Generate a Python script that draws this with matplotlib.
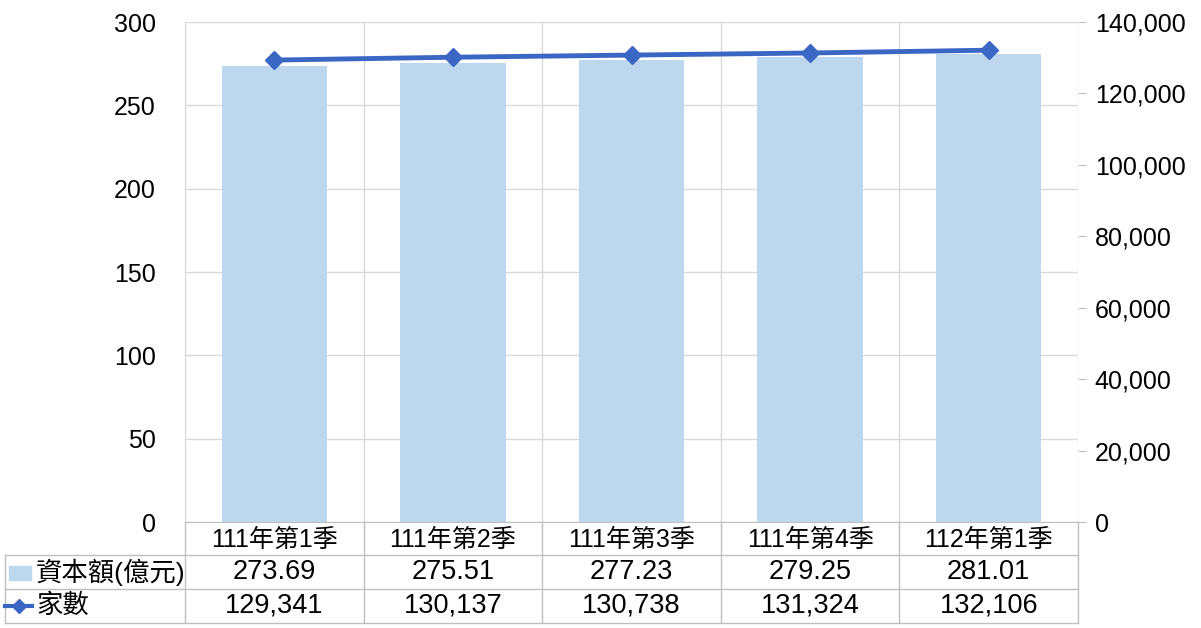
import numpy as np
import matplotlib.pyplot as plt
from matplotlib.transforms import blended_transform_factory
from matplotlib.lines import Line2D
from matplotlib.patches import Rectangle

plt.rcParams['font.family'] = ['Liberation Sans', 'Noto Sans CJK TC', 'DejaVu Sans']

quarters = ["111年第1季", "111年第2季", "111年第3季", "111年第4季", "112年第1季"]
capital = [273.69, 275.51, 277.23, 279.25, 281.01]       # 資本額(億元)
counts = [129341, 130137, 130738, 131324, 132106]         # 家數
capital_labels = ["273.69", "275.51", "277.23", "279.25", "281.01"]
count_labels = ["129,341", "130,137", "130,738", "131,324", "132,106"]

bar_color = "#bdd7ee"
line_color = "#3a66c4"
grid_color = "#d9d9d9"
fs = 18
fs_tbl = 19.5

fig = plt.figure(figsize=(12.01, 6.28), dpi=100)
ax = fig.add_axes([185 / 1201, 1 - 522 / 628, (1078 - 185) / 1201, 500 / 628])
x = np.arange(len(quarters))

ax.bar(x, capital, width=0.59, color=bar_color, zorder=2)
ax.set_xlim(-0.5, len(quarters) - 0.5)
ax.set_ylim(0, 300)
ax.set_yticks(range(0, 301, 50))
ax.yaxis.grid(True, color=grid_color, lw=1, zorder=0)
for b in np.arange(-0.5, len(quarters), 1.0):
    ax.axvline(b, color=grid_color, lw=1, zorder=0)
for s in ax.spines.values():
    s.set_visible(False)
ax.spines['bottom'].set_visible(True)
ax.spines['bottom'].set_color("#bfbfbf")
ax.tick_params(axis='y', length=0, labelsize=fs, pad=21)
ax.set_xticks(x)
ax.set_xticklabels(quarters, fontsize=fs)
ax.tick_params(axis='x', length=0, pad=4)

ax2 = ax.twinx()
ax2.plot(x, counts, color=line_color, lw=3.5, marker='D', markersize=9, zorder=5)
ax2.set_ylim(0, 140000)
ax2.set_yticks(range(0, 140001, 20000))
ax2.set_yticklabels([f"{v:,}" for v in range(0, 140001, 20000)], fontsize=fs)
for s in ax2.spines.values():
    s.set_visible(False)
ax2.tick_params(axis='y', length=6, color="#bfbfbf", pad=6)

# data table under the chart
trans = blended_transform_factory(ax.transData, ax.transAxes)
px = 1 / 500.0  # axes fraction per pixel in y
rows_y = [-(555 - 522) * px, -(589 - 522) * px, -(623 - 522) * px]
tbl_color = "#bfbfbf"
xmin_axes = (5 - 185) / (1078 - 185)
for yy in rows_y:
    ax.add_line(Line2D([xmin_axes, 1], [yy, yy], transform=ax.transAxes,
                       color=tbl_color, lw=1, clip_on=False))
for b in np.arange(-0.5, len(quarters), 1.0):
    ax.add_line(Line2D([b, b], [0, rows_y[-1]], transform=trans,
                       color=tbl_color, lw=1, clip_on=False))
ax.add_line(Line2D([xmin_axes, xmin_axes], [rows_y[0], rows_y[-1]], transform=ax.transAxes,
                   color=tbl_color, lw=1, clip_on=False))

row1_y = (rows_y[0] + rows_y[1]) / 2
row2_y = (rows_y[1] + rows_y[2]) / 2
for i in range(len(quarters)):
    ax.text(x[i], row1_y, capital_labels[i], transform=trans, ha='center', va='center',
            fontsize=fs_tbl, clip_on=False)
    ax.text(x[i], row2_y, count_labels[i], transform=trans, ha='center', va='center',
            fontsize=fs_tbl, clip_on=False)

# legend keys in the table header column
fig.patches.append(Rectangle((9 / 1201, 1 - 580 / 628), 22 / 1201, 14 / 628,
                             transform=fig.transFigure, color=bar_color))
fig.lines.append(Line2D([5 / 1201, 32 / 1201], [1 - 606 / 628, 1 - 606 / 628],
                        transform=fig.transFigure, color=line_color, lw=3))
fig.lines.append(Line2D([18.5 / 1201], [1 - 606 / 628], transform=fig.transFigure,
                        color=line_color, marker='D', markersize=7, lw=0))
fig.text(36 / 1201, 1 - 572 / 628, "資本額(億元)", fontsize=19, va='center', ha='left')
fig.text(36 / 1201, 1 - 606 / 628, "家數", fontsize=19, va='center', ha='left')

fig.savefig("out.png", dpi=100)
